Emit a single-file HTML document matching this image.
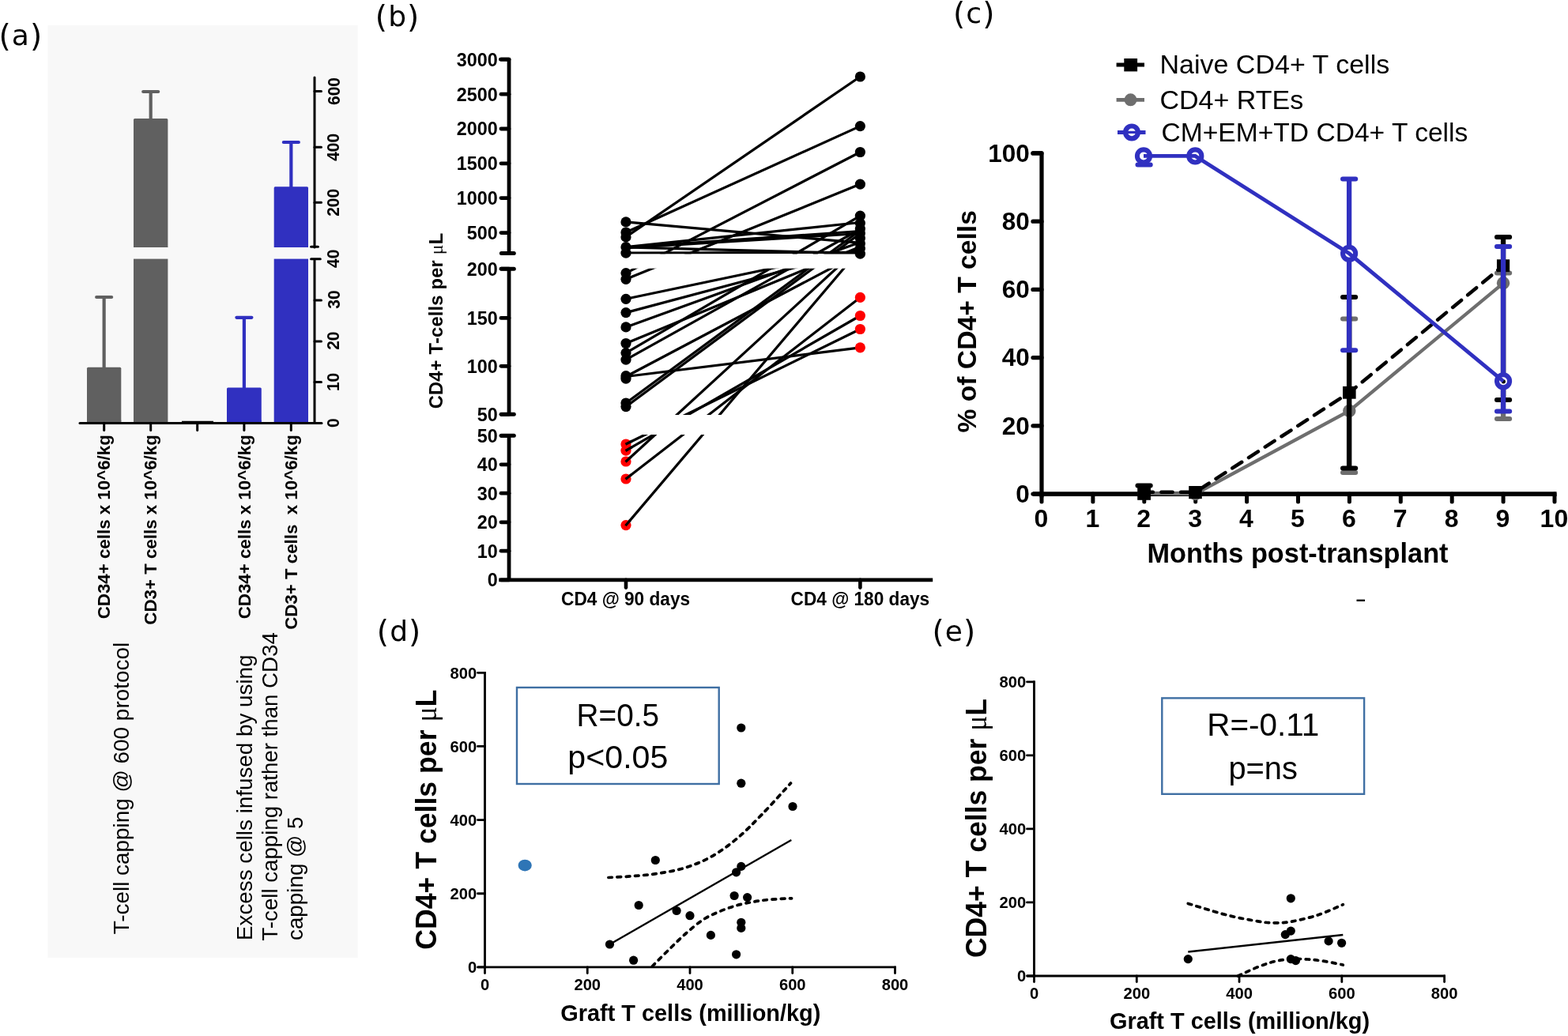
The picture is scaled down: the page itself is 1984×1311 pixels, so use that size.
<!DOCTYPE html>
<html lang="en">
<head>
<meta charset="utf-8">
<title>Figure</title>
<style>
html,body{margin:0;padding:0;background:#fff;}
body{width:1984px;height:1311px;overflow:hidden;}
svg{display:block;}
</style>
</head>
<body>
<svg width="1984" height="1311" viewBox="0 0 1984 1311">
<rect x="0" y="0" width="1984" height="1311" fill="#ffffff"/>
<rect x="60.50" y="32.00" width="392.00" height="1180.00" fill="#f8f8f8"/>
<line x1="131.65" y1="466.80" x2="131.65" y2="376.00" stroke="#606060" stroke-width="4.2" stroke-linecap="butt"/>
<line x1="122.15" y1="376.00" x2="141.15" y2="376.00" stroke="#606060" stroke-width="4.2" stroke-linecap="round"/>
<rect x="110.00" y="464.80" width="43.30" height="69.80" fill="#606060" rx="1.5"/>
<rect x="110.00" y="531.60" width="43.30" height="3.00" fill="#606060"/>
<line x1="190.70" y1="152.00" x2="190.70" y2="116.00" stroke="#606060" stroke-width="4.2" stroke-linecap="butt"/>
<line x1="181.20" y1="116.00" x2="200.20" y2="116.00" stroke="#606060" stroke-width="4.2" stroke-linecap="round"/>
<rect x="169.00" y="150.00" width="43.40" height="163.00" fill="#606060" rx="1.5"/>
<rect x="169.00" y="312.00" width="43.40" height="1.00" fill="#606060"/>
<rect x="169.00" y="327.60" width="43.40" height="207.00" fill="#606060"/>
<line x1="308.90" y1="492.40" x2="308.90" y2="401.80" stroke="#3030c0" stroke-width="4.2" stroke-linecap="butt"/>
<line x1="299.40" y1="401.80" x2="318.40" y2="401.80" stroke="#3030c0" stroke-width="4.2" stroke-linecap="round"/>
<rect x="287.00" y="490.40" width="43.80" height="44.20" fill="#3030c0" rx="1.5"/>
<rect x="287.00" y="531.60" width="43.80" height="3.00" fill="#3030c0"/>
<line x1="368.35" y1="238.30" x2="368.35" y2="180.00" stroke="#3030c0" stroke-width="4.2" stroke-linecap="butt"/>
<line x1="358.85" y1="180.00" x2="377.85" y2="180.00" stroke="#3030c0" stroke-width="4.2" stroke-linecap="round"/>
<rect x="346.70" y="236.30" width="43.30" height="76.70" fill="#3030c0" rx="1.5"/>
<rect x="346.70" y="312.00" width="43.30" height="1.00" fill="#3030c0"/>
<rect x="346.70" y="327.60" width="43.30" height="207.00" fill="#3030c0"/>
<line x1="230.00" y1="533.50" x2="270.00" y2="533.50" stroke="#000" stroke-width="1.5" stroke-linecap="butt"/>
<line x1="101.00" y1="535.60" x2="407.00" y2="535.60" stroke="#000" stroke-width="3" stroke-linecap="round"/>
<line x1="398.00" y1="98.00" x2="398.00" y2="313.00" stroke="#000" stroke-width="3" stroke-linecap="round"/>
<line x1="398.00" y1="328.00" x2="398.00" y2="535.30" stroke="#000" stroke-width="3" stroke-linecap="butt"/>
<line x1="398.00" y1="115.50" x2="406.50" y2="115.50" stroke="#000" stroke-width="3" stroke-linecap="round"/>
<line x1="398.00" y1="186.30" x2="406.50" y2="186.30" stroke="#000" stroke-width="3" stroke-linecap="round"/>
<line x1="398.00" y1="256.30" x2="406.50" y2="256.30" stroke="#000" stroke-width="3" stroke-linecap="round"/>
<line x1="398.00" y1="380.00" x2="406.50" y2="380.00" stroke="#000" stroke-width="3" stroke-linecap="round"/>
<line x1="398.00" y1="431.90" x2="406.50" y2="431.90" stroke="#000" stroke-width="3" stroke-linecap="round"/>
<line x1="398.00" y1="483.40" x2="406.50" y2="483.40" stroke="#000" stroke-width="3" stroke-linecap="round"/>
<line x1="393.60" y1="312.20" x2="402.40" y2="312.20" stroke="#000" stroke-width="3" stroke-linecap="round"/>
<line x1="393.60" y1="327.80" x2="405.30" y2="327.80" stroke="#000" stroke-width="3" stroke-linecap="round"/>
<line x1="131.70" y1="535.30" x2="131.70" y2="544.50" stroke="#000" stroke-width="3" stroke-linecap="round"/>
<line x1="190.70" y1="535.30" x2="190.70" y2="544.50" stroke="#000" stroke-width="3" stroke-linecap="round"/>
<line x1="249.70" y1="535.30" x2="249.70" y2="544.50" stroke="#000" stroke-width="3" stroke-linecap="round"/>
<line x1="308.90" y1="535.30" x2="308.90" y2="544.50" stroke="#000" stroke-width="3" stroke-linecap="round"/>
<line x1="368.30" y1="535.30" x2="368.30" y2="544.50" stroke="#000" stroke-width="3" stroke-linecap="round"/>
<text x="429.5" y="115.5" font-family='"Liberation Sans", Arial, Helvetica, sans-serif' font-size="21.7" font-weight="bold" text-anchor="middle" fill="#000" transform="rotate(-90 429.5 115.5)" textLength="35" lengthAdjust="spacingAndGlyphs">600</text>
<text x="429.5" y="186.3" font-family='"Liberation Sans", Arial, Helvetica, sans-serif' font-size="21.7" font-weight="bold" text-anchor="middle" fill="#000" transform="rotate(-90 429.5 186.3)" textLength="35" lengthAdjust="spacingAndGlyphs">400</text>
<text x="429.5" y="256.3" font-family='"Liberation Sans", Arial, Helvetica, sans-serif' font-size="21.7" font-weight="bold" text-anchor="middle" fill="#000" transform="rotate(-90 429.5 256.3)" textLength="35" lengthAdjust="spacingAndGlyphs">200</text>
<text x="429.5" y="327.3" font-family='"Liberation Sans", Arial, Helvetica, sans-serif' font-size="21.7" font-weight="bold" text-anchor="middle" fill="#000" transform="rotate(-90 429.5 327.3)" textLength="23.3" lengthAdjust="spacingAndGlyphs">40</text>
<text x="429.5" y="379" font-family='"Liberation Sans", Arial, Helvetica, sans-serif' font-size="21.7" font-weight="bold" text-anchor="middle" fill="#000" transform="rotate(-90 429.5 379)" textLength="23.3" lengthAdjust="spacingAndGlyphs">30</text>
<text x="429.5" y="431.2" font-family='"Liberation Sans", Arial, Helvetica, sans-serif' font-size="21.7" font-weight="bold" text-anchor="middle" fill="#000" transform="rotate(-90 429.5 431.2)" textLength="23.3" lengthAdjust="spacingAndGlyphs">20</text>
<text x="429.5" y="483.4" font-family='"Liberation Sans", Arial, Helvetica, sans-serif' font-size="21.7" font-weight="bold" text-anchor="middle" fill="#000" transform="rotate(-90 429.5 483.4)" textLength="23.3" lengthAdjust="spacingAndGlyphs">10</text>
<text x="429.5" y="535.3" font-family='"Liberation Sans", Arial, Helvetica, sans-serif' font-size="21.7" font-weight="bold" text-anchor="middle" fill="#000" transform="rotate(-90 429.5 535.3)" textLength="11.6" lengthAdjust="spacingAndGlyphs">0</text>
<text x="139" y="550.2" font-family='"Liberation Sans", Arial, Helvetica, sans-serif' font-size="22.3" font-weight="bold" text-anchor="end" fill="#000" transform="rotate(-90 139 550.2)" style="white-space:pre">CD34+ cells x 10^6/kg</text>
<text x="198" y="550.2" font-family='"Liberation Sans", Arial, Helvetica, sans-serif' font-size="22.3" font-weight="bold" text-anchor="end" fill="#000" transform="rotate(-90 198 550.2)" style="white-space:pre">CD3+ T cells x 10^6/kg</text>
<text x="316.6" y="550.2" font-family='"Liberation Sans", Arial, Helvetica, sans-serif' font-size="22.3" font-weight="bold" text-anchor="end" fill="#000" transform="rotate(-90 316.6 550.2)" style="white-space:pre">CD34+ cells x 10^6/kg</text>
<text x="375.6" y="550.2" font-family='"Liberation Sans", Arial, Helvetica, sans-serif' font-size="22.3" font-weight="bold" text-anchor="end" fill="#000" transform="rotate(-90 375.6 550.2)" style="white-space:pre">CD3+ T cells  x 10^6/kg</text>
<text x="163.2" y="1182.3" font-family='"Liberation Sans", Arial, Helvetica, sans-serif' font-size="27.9" font-weight="normal" text-anchor="start" fill="#000" transform="rotate(-90 163.2 1182.3)">T-cell capping @ 600 protocol</text>
<text x="319.4" y="1190" font-family='"Liberation Sans", Arial, Helvetica, sans-serif' font-size="27.8" font-weight="normal" text-anchor="start" fill="#000" transform="rotate(-90 319.4 1190)">Excess cells infused by using</text>
<text x="351" y="1190.5" font-family='"Liberation Sans", Arial, Helvetica, sans-serif' font-size="27.65" font-weight="normal" text-anchor="start" fill="#000" transform="rotate(-90 351 1190.5)">T-cell capping rather than CD34</text>
<text x="383.4" y="1190" font-family='"Liberation Sans", Arial, Helvetica, sans-serif' font-size="27.8" font-weight="normal" text-anchor="start" fill="#000" transform="rotate(-90 383.4 1190)">capping @ 5</text>
<line x1="792.00" y1="299.90" x2="1088.40" y2="97.00" stroke="#000" stroke-width="3.2" stroke-linecap="butt"/>
<line x1="792.00" y1="294.00" x2="1088.40" y2="159.60" stroke="#000" stroke-width="3.2" stroke-linecap="butt"/>
<line x1="792.00" y1="345.60" x2="1088.40" y2="192.50" stroke="#000" stroke-width="3.2" stroke-linecap="butt"/>
<line x1="792.00" y1="353.30" x2="1088.40" y2="233.10" stroke="#000" stroke-width="3.2" stroke-linecap="butt"/>
<line x1="792.00" y1="280.90" x2="1088.40" y2="307.30" stroke="#000" stroke-width="3.2" stroke-linecap="butt"/>
<line x1="792.00" y1="312.70" x2="1088.40" y2="281.50" stroke="#000" stroke-width="3.2" stroke-linecap="butt"/>
<line x1="792.00" y1="313.20" x2="1088.40" y2="292.50" stroke="#000" stroke-width="3.2" stroke-linecap="butt"/>
<line x1="792.00" y1="313.60" x2="1088.40" y2="295.50" stroke="#000" stroke-width="3.2" stroke-linecap="butt"/>
<line x1="792.00" y1="312.90" x2="1088.40" y2="320.70" stroke="#000" stroke-width="3.2" stroke-linecap="butt"/>
<line x1="792.00" y1="320.20" x2="1088.40" y2="319.30" stroke="#000" stroke-width="3.2" stroke-linecap="butt"/>
<line x1="792.00" y1="378.30" x2="1088.40" y2="316.00" stroke="#000" stroke-width="3.2" stroke-linecap="butt"/>
<line x1="792.00" y1="395.60" x2="1088.40" y2="316.50" stroke="#000" stroke-width="3.2" stroke-linecap="butt"/>
<line x1="792.00" y1="413.90" x2="1088.40" y2="306.50" stroke="#000" stroke-width="3.2" stroke-linecap="butt"/>
<line x1="792.00" y1="434.50" x2="1088.40" y2="312.20" stroke="#000" stroke-width="3.2" stroke-linecap="butt"/>
<line x1="792.00" y1="446.60" x2="1088.40" y2="273.20" stroke="#000" stroke-width="3.2" stroke-linecap="butt"/>
<line x1="792.00" y1="455.20" x2="1088.40" y2="290.00" stroke="#000" stroke-width="3.2" stroke-linecap="butt"/>
<line x1="792.00" y1="476.50" x2="1088.40" y2="320.00" stroke="#000" stroke-width="3.2" stroke-linecap="butt"/>
<line x1="792.00" y1="476.50" x2="1088.40" y2="439.80" stroke="#000" stroke-width="3.2" stroke-linecap="butt"/>
<line x1="792.00" y1="510.00" x2="1088.40" y2="291.50" stroke="#000" stroke-width="3.2" stroke-linecap="butt"/>
<line x1="792.00" y1="514.60" x2="1088.40" y2="295.50" stroke="#000" stroke-width="3.2" stroke-linecap="butt"/>
<line x1="792.00" y1="562.00" x2="1088.40" y2="416.50" stroke="#000" stroke-width="3.2" stroke-linecap="butt"/>
<line x1="792.00" y1="570.20" x2="1088.40" y2="399.50" stroke="#000" stroke-width="3.2" stroke-linecap="butt"/>
<line x1="792.00" y1="584.00" x2="1088.40" y2="312.00" stroke="#000" stroke-width="3.2" stroke-linecap="butt"/>
<line x1="792.00" y1="606.00" x2="1088.40" y2="376.40" stroke="#000" stroke-width="3.2" stroke-linecap="butt"/>
<line x1="792.00" y1="664.60" x2="1088.40" y2="315.20" stroke="#000" stroke-width="3.2" stroke-linecap="butt"/>
<rect x="780.00" y="321.50" width="330.00" height="18.20" fill="#fff"/>
<rect x="780.00" y="525.00" width="330.00" height="25.00" fill="#fff"/>
<circle cx="792.00" cy="280.90" r="6.6" fill="#000"/>
<circle cx="792.00" cy="294.00" r="6.6" fill="#000"/>
<circle cx="792.00" cy="299.90" r="6.6" fill="#000"/>
<circle cx="792.00" cy="312.70" r="6.6" fill="#000"/>
<circle cx="792.00" cy="320.20" r="6.6" fill="#000"/>
<circle cx="792.00" cy="345.60" r="6.6" fill="#000"/>
<circle cx="792.00" cy="353.30" r="6.6" fill="#000"/>
<circle cx="792.00" cy="378.30" r="6.6" fill="#000"/>
<circle cx="792.00" cy="395.60" r="6.6" fill="#000"/>
<circle cx="792.00" cy="413.90" r="6.6" fill="#000"/>
<circle cx="792.00" cy="434.50" r="6.6" fill="#000"/>
<circle cx="792.00" cy="446.60" r="6.6" fill="#000"/>
<circle cx="792.00" cy="455.20" r="6.6" fill="#000"/>
<circle cx="792.00" cy="475.70" r="6.6" fill="#000"/>
<circle cx="792.00" cy="479.20" r="6.6" fill="#000"/>
<circle cx="792.00" cy="510.00" r="6.6" fill="#000"/>
<circle cx="792.00" cy="514.60" r="6.6" fill="#000"/>
<circle cx="792.00" cy="562.00" r="6.6" fill="#f00"/>
<circle cx="792.00" cy="570.20" r="6.6" fill="#f00"/>
<circle cx="792.00" cy="584.00" r="6.6" fill="#f00"/>
<circle cx="792.00" cy="606.00" r="6.6" fill="#f00"/>
<circle cx="792.00" cy="664.60" r="6.6" fill="#f00"/>
<circle cx="1088.40" cy="97.00" r="6.6" fill="#000"/>
<circle cx="1088.40" cy="159.60" r="6.6" fill="#000"/>
<circle cx="1088.40" cy="192.50" r="6.6" fill="#000"/>
<circle cx="1088.40" cy="233.10" r="6.6" fill="#000"/>
<circle cx="1088.40" cy="273.20" r="6.6" fill="#000"/>
<circle cx="1088.40" cy="282.30" r="6.6" fill="#000"/>
<circle cx="1088.40" cy="289.50" r="6.6" fill="#000"/>
<circle cx="1088.40" cy="295.00" r="6.6" fill="#000"/>
<circle cx="1088.40" cy="301.50" r="6.6" fill="#000"/>
<circle cx="1088.40" cy="308.00" r="6.6" fill="#000"/>
<circle cx="1088.40" cy="314.50" r="6.6" fill="#000"/>
<circle cx="1088.40" cy="321.20" r="6.6" fill="#000"/>
<circle cx="1088.40" cy="376.40" r="6.6" fill="#f00"/>
<circle cx="1088.40" cy="399.50" r="6.6" fill="#f00"/>
<circle cx="1088.40" cy="416.50" r="6.6" fill="#f00"/>
<circle cx="1088.40" cy="439.80" r="6.6" fill="#f00"/>
<line x1="791.50" y1="562.25" x2="800.08" y2="558.03" stroke="#000" stroke-width="3.2" stroke-linecap="butt"/>
<line x1="791.50" y1="570.49" x2="799.80" y2="565.71" stroke="#000" stroke-width="3.2" stroke-linecap="butt"/>
<line x1="791.50" y1="584.46" x2="798.63" y2="577.91" stroke="#000" stroke-width="3.2" stroke-linecap="butt"/>
<line x1="791.50" y1="606.39" x2="799.12" y2="600.49" stroke="#000" stroke-width="3.2" stroke-linecap="butt"/>
<line x1="791.50" y1="665.19" x2="797.82" y2="657.74" stroke="#000" stroke-width="3.2" stroke-linecap="butt"/>
<path d="M633.4,75.2 H644.05 V320.6" fill="none" stroke="#000" stroke-width="4.8" stroke-linejoin="round" stroke-linecap="round"/>
<line x1="644.05" y1="340.20" x2="644.05" y2="524.30" stroke="#000" stroke-width="4.8" stroke-linecap="butt"/>
<line x1="644.05" y1="551.30" x2="644.05" y2="733.90" stroke="#000" stroke-width="4.8" stroke-linecap="butt"/>
<line x1="631.30" y1="733.90" x2="1180.20" y2="733.90" stroke="#000" stroke-width="4.7" stroke-linecap="butt"/>
<line x1="634.00" y1="75.20" x2="644.05" y2="75.20" stroke="#000" stroke-width="4.8" stroke-linecap="round"/>
<text x="629.8" y="83.5" font-family='"Liberation Sans", Arial, Helvetica, sans-serif' font-size="24" font-weight="bold" text-anchor="end" fill="#000" textLength="52.0" lengthAdjust="spacingAndGlyphs">3000</text>
<line x1="634.00" y1="119.20" x2="644.05" y2="119.20" stroke="#000" stroke-width="4.8" stroke-linecap="round"/>
<text x="629.8" y="127.5" font-family='"Liberation Sans", Arial, Helvetica, sans-serif' font-size="24" font-weight="bold" text-anchor="end" fill="#000" textLength="52.0" lengthAdjust="spacingAndGlyphs">2500</text>
<line x1="634.00" y1="163.00" x2="644.05" y2="163.00" stroke="#000" stroke-width="4.8" stroke-linecap="round"/>
<text x="629.8" y="171.3" font-family='"Liberation Sans", Arial, Helvetica, sans-serif' font-size="24" font-weight="bold" text-anchor="end" fill="#000" textLength="52.0" lengthAdjust="spacingAndGlyphs">2000</text>
<line x1="634.00" y1="206.80" x2="644.05" y2="206.80" stroke="#000" stroke-width="4.8" stroke-linecap="round"/>
<text x="629.8" y="215.10000000000002" font-family='"Liberation Sans", Arial, Helvetica, sans-serif' font-size="24" font-weight="bold" text-anchor="end" fill="#000" textLength="52.0" lengthAdjust="spacingAndGlyphs">1500</text>
<line x1="634.00" y1="250.60" x2="644.05" y2="250.60" stroke="#000" stroke-width="4.8" stroke-linecap="round"/>
<text x="629.8" y="258.9" font-family='"Liberation Sans", Arial, Helvetica, sans-serif' font-size="24" font-weight="bold" text-anchor="end" fill="#000" textLength="52.0" lengthAdjust="spacingAndGlyphs">1000</text>
<line x1="634.00" y1="294.60" x2="644.05" y2="294.60" stroke="#000" stroke-width="4.8" stroke-linecap="round"/>
<text x="629.8" y="302.90000000000003" font-family='"Liberation Sans", Arial, Helvetica, sans-serif' font-size="24" font-weight="bold" text-anchor="end" fill="#000" textLength="39.0" lengthAdjust="spacingAndGlyphs">500</text>
<line x1="634.00" y1="340.20" x2="644.05" y2="340.20" stroke="#000" stroke-width="4.8" stroke-linecap="round"/>
<text x="629.8" y="348.5" font-family='"Liberation Sans", Arial, Helvetica, sans-serif' font-size="24" font-weight="bold" text-anchor="end" fill="#000" textLength="39.0" lengthAdjust="spacingAndGlyphs">200</text>
<line x1="634.00" y1="402.40" x2="644.05" y2="402.40" stroke="#000" stroke-width="4.8" stroke-linecap="round"/>
<text x="629.8" y="410.7" font-family='"Liberation Sans", Arial, Helvetica, sans-serif' font-size="24" font-weight="bold" text-anchor="end" fill="#000" textLength="39.0" lengthAdjust="spacingAndGlyphs">150</text>
<line x1="634.00" y1="463.30" x2="644.05" y2="463.30" stroke="#000" stroke-width="4.8" stroke-linecap="round"/>
<text x="629.8" y="471.6" font-family='"Liberation Sans", Arial, Helvetica, sans-serif' font-size="24" font-weight="bold" text-anchor="end" fill="#000" textLength="39.0" lengthAdjust="spacingAndGlyphs">100</text>
<line x1="634.00" y1="524.30" x2="644.05" y2="524.30" stroke="#000" stroke-width="4.8" stroke-linecap="round"/>
<text x="629.8" y="532.5999999999999" font-family='"Liberation Sans", Arial, Helvetica, sans-serif' font-size="24" font-weight="bold" text-anchor="end" fill="#000" textLength="26.0" lengthAdjust="spacingAndGlyphs">50</text>
<line x1="634.00" y1="551.30" x2="644.05" y2="551.30" stroke="#000" stroke-width="4.8" stroke-linecap="round"/>
<text x="629.8" y="559.5999999999999" font-family='"Liberation Sans", Arial, Helvetica, sans-serif' font-size="24" font-weight="bold" text-anchor="end" fill="#000" textLength="26.0" lengthAdjust="spacingAndGlyphs">50</text>
<line x1="634.00" y1="587.80" x2="644.05" y2="587.80" stroke="#000" stroke-width="4.8" stroke-linecap="round"/>
<text x="629.8" y="596.0999999999999" font-family='"Liberation Sans", Arial, Helvetica, sans-serif' font-size="24" font-weight="bold" text-anchor="end" fill="#000" textLength="26.0" lengthAdjust="spacingAndGlyphs">40</text>
<line x1="634.00" y1="624.20" x2="644.05" y2="624.20" stroke="#000" stroke-width="4.8" stroke-linecap="round"/>
<text x="629.8" y="632.5" font-family='"Liberation Sans", Arial, Helvetica, sans-serif' font-size="24" font-weight="bold" text-anchor="end" fill="#000" textLength="26.0" lengthAdjust="spacingAndGlyphs">30</text>
<line x1="634.00" y1="660.80" x2="644.05" y2="660.80" stroke="#000" stroke-width="4.8" stroke-linecap="round"/>
<text x="629.8" y="669.0999999999999" font-family='"Liberation Sans", Arial, Helvetica, sans-serif' font-size="24" font-weight="bold" text-anchor="end" fill="#000" textLength="26.0" lengthAdjust="spacingAndGlyphs">20</text>
<line x1="634.00" y1="697.20" x2="644.05" y2="697.20" stroke="#000" stroke-width="4.8" stroke-linecap="round"/>
<text x="629.8" y="705.5" font-family='"Liberation Sans", Arial, Helvetica, sans-serif' font-size="24" font-weight="bold" text-anchor="end" fill="#000" textLength="26.0" lengthAdjust="spacingAndGlyphs">10</text>
<line x1="634.00" y1="733.90" x2="644.05" y2="733.90" stroke="#000" stroke-width="4.8" stroke-linecap="round"/>
<text x="629.8" y="742.1999999999999" font-family='"Liberation Sans", Arial, Helvetica, sans-serif' font-size="24" font-weight="bold" text-anchor="end" fill="#000" textLength="13.0" lengthAdjust="spacingAndGlyphs">0</text>
<line x1="634.40" y1="320.60" x2="650.30" y2="320.60" stroke="#000" stroke-width="5" stroke-linecap="round"/>
<line x1="634.40" y1="340.20" x2="650.30" y2="340.20" stroke="#000" stroke-width="5" stroke-linecap="round"/>
<line x1="634.40" y1="524.30" x2="650.30" y2="524.30" stroke="#000" stroke-width="5" stroke-linecap="round"/>
<line x1="634.40" y1="551.30" x2="650.30" y2="551.30" stroke="#000" stroke-width="5" stroke-linecap="round"/>
<line x1="792.00" y1="733.90" x2="792.00" y2="743.60" stroke="#000" stroke-width="4.6" stroke-linecap="round"/>
<line x1="1088.40" y1="733.90" x2="1088.40" y2="743.60" stroke="#000" stroke-width="4.6" stroke-linecap="round"/>
<text x="791.6" y="765.6" font-family='"Liberation Sans", Arial, Helvetica, sans-serif' font-size="23.7" font-weight="bold" text-anchor="middle" fill="#000" textLength="163" lengthAdjust="spacingAndGlyphs">CD4 @ 90 days</text>
<text x="1088.4" y="765.6" font-family='"Liberation Sans", Arial, Helvetica, sans-serif' font-size="23.7" font-weight="bold" text-anchor="middle" fill="#000" textLength="175.6" lengthAdjust="spacingAndGlyphs">CD4 @ 180 days</text>
<text x="560.1" y="517.3" transform="rotate(-90 560.1 517.3)" textLength="222.5" lengthAdjust="spacing" font-family='"Liberation Sans", Arial, Helvetica, sans-serif' font-size="23.7" font-weight="bold" fill="#000">CD4+ T-cells per <tspan font-family='"Liberation Serif", serif' font-weight="normal">μ</tspan>L</text>
<line x1="1412.60" y1="82.00" x2="1448.00" y2="82.00" stroke="#000" stroke-width="5.2" stroke-linecap="butt"/>
<rect x="1422.30" y="74.00" width="16.80" height="16.40" fill="#000"/>
<line x1="1412.60" y1="126.30" x2="1448.00" y2="126.30" stroke="#6e6e6e" stroke-width="4.8" stroke-linecap="butt"/>
<circle cx="1430.50" cy="126.30" r="8" fill="#6e6e6e"/>
<line x1="1414.00" y1="167.40" x2="1449.50" y2="167.40" stroke="#3030c0" stroke-width="5" stroke-linecap="butt"/>
<circle cx="1432.00" cy="167.40" r="7.90" fill="#fff" stroke="#3030c0" stroke-width="6.20"/>
<line x1="1426.00" y1="167.40" x2="1438.00" y2="167.40" stroke="#3030c0" stroke-width="3.2" stroke-linecap="butt"/>
<text x="1467.5" y="93.2" font-family='"Liberation Sans", Arial, Helvetica, sans-serif' font-size="34" font-weight="normal" text-anchor="start" fill="#000">Naive CD4+ T cells</text>
<text x="1467.5" y="137.8" font-family='"Liberation Sans", Arial, Helvetica, sans-serif' font-size="34" font-weight="normal" text-anchor="start" fill="#000">CD4+ RTEs</text>
<text x="1469.5" y="178.5" font-family='"Liberation Sans", Arial, Helvetica, sans-serif' font-size="33.6" font-weight="normal" text-anchor="start" fill="#000">CM+EM+TD CD4+ T cells</text>
<path d="M1307.0,193.9 H1318.0 V627.9" fill="none" stroke="#000" stroke-width="5.2" stroke-linejoin="round" stroke-linecap="round"/>
<line x1="1307.00" y1="625.10" x2="1969.60" y2="625.10" stroke="#000" stroke-width="5.6" stroke-linecap="butt"/>
<line x1="1307.00" y1="625.10" x2="1318.00" y2="625.10" stroke="#000" stroke-width="5.2" stroke-linecap="round"/>
<text x="1302.8" y="635.8000000000001" font-family='"Liberation Sans", Arial, Helvetica, sans-serif' font-size="31.5" font-weight="bold" text-anchor="end" fill="#000">0</text>
<line x1="1307.00" y1="538.86" x2="1318.00" y2="538.86" stroke="#000" stroke-width="5.2" stroke-linecap="round"/>
<text x="1302.8" y="549.5600000000001" font-family='"Liberation Sans", Arial, Helvetica, sans-serif' font-size="31.5" font-weight="bold" text-anchor="end" fill="#000">20</text>
<line x1="1307.00" y1="452.62" x2="1318.00" y2="452.62" stroke="#000" stroke-width="5.2" stroke-linecap="round"/>
<text x="1302.8" y="463.32" font-family='"Liberation Sans", Arial, Helvetica, sans-serif' font-size="31.5" font-weight="bold" text-anchor="end" fill="#000">40</text>
<line x1="1307.00" y1="366.38" x2="1318.00" y2="366.38" stroke="#000" stroke-width="5.2" stroke-linecap="round"/>
<text x="1302.8" y="377.08" font-family='"Liberation Sans", Arial, Helvetica, sans-serif' font-size="31.5" font-weight="bold" text-anchor="end" fill="#000">60</text>
<line x1="1307.00" y1="280.14" x2="1318.00" y2="280.14" stroke="#000" stroke-width="5.2" stroke-linecap="round"/>
<text x="1302.8" y="290.84" font-family='"Liberation Sans", Arial, Helvetica, sans-serif' font-size="31.5" font-weight="bold" text-anchor="end" fill="#000">80</text>
<line x1="1307.00" y1="193.90" x2="1318.00" y2="193.90" stroke="#000" stroke-width="5.2" stroke-linecap="round"/>
<text x="1302.8" y="204.59999999999997" font-family='"Liberation Sans", Arial, Helvetica, sans-serif' font-size="31.5" font-weight="bold" text-anchor="end" fill="#000">100</text>
<line x1="1318.00" y1="625.10" x2="1318.00" y2="635.10" stroke="#000" stroke-width="5" stroke-linecap="round"/>
<text x="1317.4" y="667.3" font-family='"Liberation Sans", Arial, Helvetica, sans-serif' font-size="32" font-weight="bold" text-anchor="middle" fill="#000">0</text>
<line x1="1382.90" y1="625.10" x2="1382.90" y2="635.10" stroke="#000" stroke-width="5" stroke-linecap="round"/>
<text x="1382.3000000000002" y="667.3" font-family='"Liberation Sans", Arial, Helvetica, sans-serif' font-size="32" font-weight="bold" text-anchor="middle" fill="#000">1</text>
<line x1="1447.80" y1="625.10" x2="1447.80" y2="635.10" stroke="#000" stroke-width="5" stroke-linecap="round"/>
<text x="1447.2" y="667.3" font-family='"Liberation Sans", Arial, Helvetica, sans-serif' font-size="32" font-weight="bold" text-anchor="middle" fill="#000">2</text>
<line x1="1512.70" y1="625.10" x2="1512.70" y2="635.10" stroke="#000" stroke-width="5" stroke-linecap="round"/>
<text x="1512.1000000000001" y="667.3" font-family='"Liberation Sans", Arial, Helvetica, sans-serif' font-size="32" font-weight="bold" text-anchor="middle" fill="#000">3</text>
<line x1="1577.60" y1="625.10" x2="1577.60" y2="635.10" stroke="#000" stroke-width="5" stroke-linecap="round"/>
<text x="1577.0" y="667.3" font-family='"Liberation Sans", Arial, Helvetica, sans-serif' font-size="32" font-weight="bold" text-anchor="middle" fill="#000">4</text>
<line x1="1642.50" y1="625.10" x2="1642.50" y2="635.10" stroke="#000" stroke-width="5" stroke-linecap="round"/>
<text x="1641.9" y="667.3" font-family='"Liberation Sans", Arial, Helvetica, sans-serif' font-size="32" font-weight="bold" text-anchor="middle" fill="#000">5</text>
<line x1="1707.40" y1="625.10" x2="1707.40" y2="635.10" stroke="#000" stroke-width="5" stroke-linecap="round"/>
<text x="1706.8000000000002" y="667.3" font-family='"Liberation Sans", Arial, Helvetica, sans-serif' font-size="32" font-weight="bold" text-anchor="middle" fill="#000">6</text>
<line x1="1772.30" y1="625.10" x2="1772.30" y2="635.10" stroke="#000" stroke-width="5" stroke-linecap="round"/>
<text x="1771.7000000000003" y="667.3" font-family='"Liberation Sans", Arial, Helvetica, sans-serif' font-size="32" font-weight="bold" text-anchor="middle" fill="#000">7</text>
<line x1="1837.20" y1="625.10" x2="1837.20" y2="635.10" stroke="#000" stroke-width="5" stroke-linecap="round"/>
<text x="1836.6000000000001" y="667.3" font-family='"Liberation Sans", Arial, Helvetica, sans-serif' font-size="32" font-weight="bold" text-anchor="middle" fill="#000">8</text>
<line x1="1902.10" y1="625.10" x2="1902.10" y2="635.10" stroke="#000" stroke-width="5" stroke-linecap="round"/>
<text x="1901.5" y="667.3" font-family='"Liberation Sans", Arial, Helvetica, sans-serif' font-size="32" font-weight="bold" text-anchor="middle" fill="#000">9</text>
<line x1="1967.00" y1="625.10" x2="1967.00" y2="635.10" stroke="#000" stroke-width="5" stroke-linecap="round"/>
<text x="1966.4" y="667.3" font-family='"Liberation Sans", Arial, Helvetica, sans-serif' font-size="32" font-weight="bold" text-anchor="middle" fill="#000">10</text>
<line x1="1707.10" y1="403.60" x2="1707.10" y2="598.10" stroke="#6e6e6e" stroke-width="6.3" stroke-linecap="butt"/>
<line x1="1699.00" y1="403.60" x2="1715.20" y2="403.60" stroke="#6e6e6e" stroke-width="6" stroke-linecap="round"/>
<line x1="1699.00" y1="598.10" x2="1715.20" y2="598.10" stroke="#6e6e6e" stroke-width="6" stroke-linecap="round"/>
<line x1="1902.06" y1="345.40" x2="1902.06" y2="530.00" stroke="#6e6e6e" stroke-width="6.3" stroke-linecap="butt"/>
<line x1="1893.96" y1="345.40" x2="1910.16" y2="345.40" stroke="#6e6e6e" stroke-width="6" stroke-linecap="round"/>
<line x1="1893.96" y1="530.00" x2="1910.16" y2="530.00" stroke="#6e6e6e" stroke-width="6" stroke-linecap="round"/>
<polyline fill="none" stroke="#6e6e6e" stroke-width="4.3" points="1447.6,624.3 1512.5,625.0 1707.3,520.0 1902.1,358.3"/>
<circle cx="1447.60" cy="624.30" r="8.2" fill="#6e6e6e"/>
<circle cx="1512.50" cy="625.00" r="8.2" fill="#6e6e6e"/>
<circle cx="1707.30" cy="520.00" r="8.2" fill="#6e6e6e"/>
<circle cx="1902.06" cy="358.30" r="8.2" fill="#6e6e6e"/>
<line x1="1707.10" y1="376.00" x2="1707.10" y2="592.50" stroke="#000" stroke-width="6.3" stroke-linecap="butt"/>
<line x1="1699.00" y1="376.00" x2="1715.20" y2="376.00" stroke="#000" stroke-width="6" stroke-linecap="round"/>
<line x1="1699.00" y1="592.50" x2="1715.20" y2="592.50" stroke="#000" stroke-width="6" stroke-linecap="round"/>
<line x1="1902.06" y1="300.00" x2="1902.06" y2="506.10" stroke="#000" stroke-width="6.3" stroke-linecap="butt"/>
<line x1="1893.96" y1="300.00" x2="1910.16" y2="300.00" stroke="#000" stroke-width="6" stroke-linecap="round"/>
<line x1="1893.96" y1="506.10" x2="1910.16" y2="506.10" stroke="#000" stroke-width="6" stroke-linecap="round"/>
<line x1="1447.60" y1="614.60" x2="1447.60" y2="624.00" stroke="#000" stroke-width="6.3" stroke-linecap="butt"/>
<line x1="1439.50" y1="614.60" x2="1455.70" y2="614.60" stroke="#000" stroke-width="6" stroke-linecap="round"/>
<polyline fill="none" stroke="#000" stroke-width="4.5" stroke-linecap="round" stroke-dasharray="14.2 10.5" stroke-dashoffset="2.9" points="1447.6,622.7 1512.5,622.7 1707.3,496.8 1902.1,336.2"/>
<rect x="1439.20" y="615.30" width="16.80" height="17.50" fill="#000"/>
<rect x="1504.20" y="615.00" width="16.60" height="16.20" fill="#000"/>
<rect x="1699.00" y="488.90" width="16.60" height="15.80" fill="#000"/>
<rect x="1893.96" y="328.30" width="16.20" height="15.80" fill="#000"/>
<line x1="1707.10" y1="226.40" x2="1707.10" y2="443.20" stroke="#3030c0" stroke-width="6.3" stroke-linecap="butt"/>
<line x1="1699.00" y1="226.40" x2="1715.20" y2="226.40" stroke="#3030c0" stroke-width="6" stroke-linecap="round"/>
<line x1="1699.00" y1="443.20" x2="1715.20" y2="443.20" stroke="#3030c0" stroke-width="6" stroke-linecap="round"/>
<line x1="1902.06" y1="312.00" x2="1902.06" y2="520.40" stroke="#3030c0" stroke-width="6.3" stroke-linecap="butt"/>
<line x1="1893.96" y1="312.00" x2="1910.16" y2="312.00" stroke="#3030c0" stroke-width="6" stroke-linecap="round"/>
<line x1="1893.96" y1="520.40" x2="1910.16" y2="520.40" stroke="#3030c0" stroke-width="6" stroke-linecap="round"/>
<line x1="1447.60" y1="197.40" x2="1447.60" y2="208.40" stroke="#3030c0" stroke-width="6.3" stroke-linecap="butt"/>
<line x1="1439.50" y1="208.40" x2="1455.70" y2="208.40" stroke="#3030c0" stroke-width="6" stroke-linecap="round"/>
<circle cx="1447.00" cy="197.40" r="8.05" fill="#fff" stroke="#3030c0" stroke-width="6.10"/>
<circle cx="1512.30" cy="197.40" r="8.05" fill="#fff" stroke="#3030c0" stroke-width="6.10"/>
<circle cx="1707.10" cy="320.80" r="8.05" fill="#fff" stroke="#3030c0" stroke-width="6.10"/>
<circle cx="1902.06" cy="482.30" r="8.05" fill="#fff" stroke="#3030c0" stroke-width="6.10"/>
<circle cx="1902.36" cy="482.80" r="2.6" fill="#000"/>
<polyline fill="none" stroke="#3030c0" stroke-width="4.8" points="1447.0,197.4 1512.3,197.4 1707.1,320.8 1902.1,482.3"/>
<text x="1642" y="711.5" font-family='"Liberation Sans", Arial, Helvetica, sans-serif' font-size="34.3" font-weight="bold" text-anchor="middle" fill="#000">Months post-transplant</text>
<text x="1234.7" y="406.8" font-family='"Liberation Sans", Arial, Helvetica, sans-serif' font-size="34" font-weight="bold" text-anchor="middle" fill="#000" transform="rotate(-90 1234.7 406.8)" textLength="281.5" lengthAdjust="spacingAndGlyphs">% of CD4+ T cells</text>
<line x1="1716.50" y1="759.80" x2="1727.00" y2="759.80" stroke="#000" stroke-width="2.4" stroke-linecap="butt"/>
<path d="M771.5,1195.0 L1001.3,1063.0" fill="none" stroke="#000" stroke-width="2.4" stroke-linejoin="round"/>
<path d="M769.9,1110.5 C775.6,1110.2 793.1,1109.4 804.1,1108.4 C815.1,1107.5 825.4,1106.6 836.1,1104.8 C846.8,1103.0 857.4,1101.2 868.1,1097.7 C878.8,1094.2 889.5,1090.0 900.2,1083.9 C910.9,1077.9 921.5,1070.3 932.2,1061.4 C942.9,1052.5 952.8,1042.2 964.2,1030.5 C975.6,1018.8 994.5,997.6 1000.5,991.0" fill="none" stroke="#000" stroke-width="3.7" stroke-dasharray="4.6 6.6" stroke-linecap="round"/>
<path d="M825.4,1222.7 C829.0,1219.1 839.7,1208.2 846.8,1201.3 C853.9,1194.3 861.0,1187.2 868.1,1181.0 C875.2,1174.8 882.4,1168.5 889.5,1163.9 C896.6,1159.3 903.7,1156.3 910.8,1153.3 C917.9,1150.3 925.1,1147.8 932.2,1145.8 C939.3,1143.8 946.4,1142.3 953.5,1141.1 C960.6,1139.8 966.9,1139.0 974.9,1138.3 C982.9,1137.6 997.1,1137.0 1001.6,1136.8" fill="none" stroke="#000" stroke-width="3.7" stroke-dasharray="4.6 6.6" stroke-linecap="round"/>
<circle cx="937.80" cy="921.00" r="5.6" fill="#000"/>
<circle cx="937.80" cy="991.20" r="5.6" fill="#000"/>
<circle cx="1003.00" cy="1020.50" r="5.6" fill="#000"/>
<circle cx="829.30" cy="1088.50" r="5.6" fill="#000"/>
<circle cx="937.80" cy="1096.40" r="5.6" fill="#000"/>
<circle cx="931.60" cy="1103.80" r="5.6" fill="#000"/>
<circle cx="929.10" cy="1133.50" r="5.6" fill="#000"/>
<circle cx="945.60" cy="1135.60" r="5.6" fill="#000"/>
<circle cx="808.20" cy="1145.50" r="5.6" fill="#000"/>
<circle cx="856.10" cy="1152.50" r="5.6" fill="#000"/>
<circle cx="873.00" cy="1158.70" r="5.6" fill="#000"/>
<circle cx="937.80" cy="1167.30" r="5.6" fill="#000"/>
<circle cx="937.80" cy="1174.40" r="5.6" fill="#000"/>
<circle cx="899.40" cy="1183.40" r="5.6" fill="#000"/>
<circle cx="771.50" cy="1195.00" r="5.6" fill="#000"/>
<circle cx="931.60" cy="1207.80" r="5.6" fill="#000"/>
<circle cx="801.60" cy="1215.20" r="5.6" fill="#000"/>
<ellipse cx="664.2" cy="1095.1" rx="8.6" ry="7.4" fill="#2e75b6"/>
<line x1="613.50" y1="850.00" x2="613.50" y2="1225.20" stroke="#000" stroke-width="2.9" stroke-linecap="butt"/>
<line x1="604.50" y1="1223.90" x2="1133.80" y2="1223.90" stroke="#000" stroke-width="2.9" stroke-linecap="butt"/>
<line x1="604.50" y1="851.30" x2="613.50" y2="851.30" stroke="#000" stroke-width="2.8" stroke-linecap="round"/>
<text x="603.3" y="858.5" font-family='"Liberation Sans", Arial, Helvetica, sans-serif' font-size="20.2" font-weight="bold" text-anchor="end" fill="#000">800</text>
<line x1="604.50" y1="944.45" x2="613.50" y2="944.45" stroke="#000" stroke-width="2.8" stroke-linecap="round"/>
<text x="603.3" y="951.6500000000001" font-family='"Liberation Sans", Arial, Helvetica, sans-serif' font-size="20.2" font-weight="bold" text-anchor="end" fill="#000">600</text>
<line x1="604.50" y1="1037.60" x2="613.50" y2="1037.60" stroke="#000" stroke-width="2.8" stroke-linecap="round"/>
<text x="603.3" y="1044.8" font-family='"Liberation Sans", Arial, Helvetica, sans-serif' font-size="20.2" font-weight="bold" text-anchor="end" fill="#000">400</text>
<line x1="604.50" y1="1130.75" x2="613.50" y2="1130.75" stroke="#000" stroke-width="2.8" stroke-linecap="round"/>
<text x="603.3" y="1137.95" font-family='"Liberation Sans", Arial, Helvetica, sans-serif' font-size="20.2" font-weight="bold" text-anchor="end" fill="#000">200</text>
<line x1="604.50" y1="1223.90" x2="613.50" y2="1223.90" stroke="#000" stroke-width="2.8" stroke-linecap="round"/>
<text x="603.3" y="1231.1000000000001" font-family='"Liberation Sans", Arial, Helvetica, sans-serif' font-size="20.2" font-weight="bold" text-anchor="end" fill="#000">0</text>
<line x1="613.50" y1="1223.90" x2="613.50" y2="1231.50" stroke="#000" stroke-width="2.8" stroke-linecap="round"/>
<text x="613.5" y="1252.5" font-family='"Liberation Sans", Arial, Helvetica, sans-serif' font-size="20.2" font-weight="bold" text-anchor="middle" fill="#000">0</text>
<line x1="743.25" y1="1223.90" x2="743.25" y2="1231.50" stroke="#000" stroke-width="2.8" stroke-linecap="round"/>
<text x="743.25" y="1252.5" font-family='"Liberation Sans", Arial, Helvetica, sans-serif' font-size="20.2" font-weight="bold" text-anchor="middle" fill="#000">200</text>
<line x1="873.00" y1="1223.90" x2="873.00" y2="1231.50" stroke="#000" stroke-width="2.8" stroke-linecap="round"/>
<text x="873.0" y="1252.5" font-family='"Liberation Sans", Arial, Helvetica, sans-serif' font-size="20.2" font-weight="bold" text-anchor="middle" fill="#000">400</text>
<line x1="1002.75" y1="1223.90" x2="1002.75" y2="1231.50" stroke="#000" stroke-width="2.8" stroke-linecap="round"/>
<text x="1002.75" y="1252.5" font-family='"Liberation Sans", Arial, Helvetica, sans-serif' font-size="20.2" font-weight="bold" text-anchor="middle" fill="#000">600</text>
<line x1="1132.50" y1="1223.90" x2="1132.50" y2="1231.50" stroke="#000" stroke-width="2.8" stroke-linecap="round"/>
<text x="1132.5" y="1252.5" font-family='"Liberation Sans", Arial, Helvetica, sans-serif' font-size="20.2" font-weight="bold" text-anchor="middle" fill="#000">800</text>
<text x="873.8" y="1291.5" font-family='"Liberation Sans", Arial, Helvetica, sans-serif' font-size="28.9" font-weight="bold" text-anchor="middle" fill="#000">Graft T cells (million/kg)</text>
<text x="551.6" y="1037.2" transform="rotate(-90 551.6 1037.2)" text-anchor="middle" textLength="329" lengthAdjust="spacingAndGlyphs" font-family='"Liberation Sans", Arial, Helvetica, sans-serif' font-size="37.4" font-weight="bold" fill="#000">CD4+ T cells per <tspan font-family='"Liberation Serif", serif' font-weight="normal">μ</tspan>L</text>
<rect x="654" y="870" width="255.70000000000005" height="122" fill="#fff" stroke="#3f6fa3" stroke-width="2.4"/>
<text x="781.85" y="918.5" font-family='"Liberation Sans", Arial, Helvetica, sans-serif' font-size="40.5" font-weight="normal" text-anchor="middle" fill="#000" textLength="104.5" lengthAdjust="spacingAndGlyphs">R=0.5</text>
<text x="781.85" y="972.2" font-family='"Liberation Sans", Arial, Helvetica, sans-serif' font-size="40.5" font-weight="normal" text-anchor="middle" fill="#000" textLength="127" lengthAdjust="spacingAndGlyphs">p&lt;0.05</text>
<path d="M1503.3,1204.5 L1699.3,1183.0" fill="none" stroke="#000" stroke-width="2.4" stroke-linejoin="round"/>
<path d="M1503.3,1143.4 C1511.4,1145.8 1537.0,1154.1 1552.0,1157.9 C1567.0,1161.7 1582.9,1164.4 1593.2,1166.1 C1603.5,1167.8 1607.0,1167.8 1613.9,1167.8 C1620.8,1167.8 1625.6,1167.8 1634.5,1166.1 C1643.4,1164.4 1656.7,1161.5 1667.5,1157.9 C1678.3,1154.3 1694.0,1146.9 1699.3,1144.7" fill="none" stroke="#000" stroke-width="3.7" stroke-dasharray="4.6 6.6" stroke-linecap="round"/>
<path d="M1566.4,1235.0 C1570.9,1233.0 1585.3,1226.1 1593.2,1223.0 C1601.1,1219.9 1607.0,1218.0 1613.9,1216.4 C1620.8,1214.8 1627.7,1214.0 1634.5,1213.6 C1641.3,1213.2 1648.1,1213.5 1655.0,1214.0 C1661.9,1214.5 1668.4,1215.2 1675.8,1216.4 C1683.2,1217.6 1695.4,1220.2 1699.3,1221.0" fill="none" stroke="#000" stroke-width="3.7" stroke-dasharray="4.6 6.6" stroke-linecap="round"/>
<circle cx="1633.30" cy="1136.80" r="5.6" fill="#000"/>
<circle cx="1633.30" cy="1178.10" r="5.6" fill="#000"/>
<circle cx="1626.30" cy="1182.60" r="5.6" fill="#000"/>
<circle cx="1681.10" cy="1190.90" r="5.6" fill="#000"/>
<circle cx="1697.60" cy="1193.30" r="5.6" fill="#000"/>
<circle cx="1503.30" cy="1213.60" r="5.6" fill="#000"/>
<circle cx="1633.30" cy="1213.60" r="5.6" fill="#000"/>
<circle cx="1639.50" cy="1215.60" r="5.6" fill="#000"/>
<line x1="1308.50" y1="861.50" x2="1308.50" y2="1236.30" stroke="#000" stroke-width="2.9" stroke-linecap="butt"/>
<line x1="1299.50" y1="1235.00" x2="1828.90" y2="1235.00" stroke="#000" stroke-width="2.9" stroke-linecap="butt"/>
<line x1="1299.50" y1="862.80" x2="1308.50" y2="862.80" stroke="#000" stroke-width="2.8" stroke-linecap="round"/>
<text x="1298.3" y="870.0" font-family='"Liberation Sans", Arial, Helvetica, sans-serif' font-size="20.2" font-weight="bold" text-anchor="end" fill="#000">800</text>
<line x1="1299.50" y1="955.85" x2="1308.50" y2="955.85" stroke="#000" stroke-width="2.8" stroke-linecap="round"/>
<text x="1298.3" y="963.05" font-family='"Liberation Sans", Arial, Helvetica, sans-serif' font-size="20.2" font-weight="bold" text-anchor="end" fill="#000">600</text>
<line x1="1299.50" y1="1048.90" x2="1308.50" y2="1048.90" stroke="#000" stroke-width="2.8" stroke-linecap="round"/>
<text x="1298.3" y="1056.1000000000001" font-family='"Liberation Sans", Arial, Helvetica, sans-serif' font-size="20.2" font-weight="bold" text-anchor="end" fill="#000">400</text>
<line x1="1299.50" y1="1141.95" x2="1308.50" y2="1141.95" stroke="#000" stroke-width="2.8" stroke-linecap="round"/>
<text x="1298.3" y="1149.15" font-family='"Liberation Sans", Arial, Helvetica, sans-serif' font-size="20.2" font-weight="bold" text-anchor="end" fill="#000">200</text>
<line x1="1299.50" y1="1235.00" x2="1308.50" y2="1235.00" stroke="#000" stroke-width="2.8" stroke-linecap="round"/>
<text x="1298.3" y="1242.2" font-family='"Liberation Sans", Arial, Helvetica, sans-serif' font-size="20.2" font-weight="bold" text-anchor="end" fill="#000">0</text>
<line x1="1308.50" y1="1235.00" x2="1308.50" y2="1242.60" stroke="#000" stroke-width="2.8" stroke-linecap="round"/>
<text x="1308.5" y="1263.6" font-family='"Liberation Sans", Arial, Helvetica, sans-serif' font-size="20.2" font-weight="bold" text-anchor="middle" fill="#000">0</text>
<line x1="1438.28" y1="1235.00" x2="1438.28" y2="1242.60" stroke="#000" stroke-width="2.8" stroke-linecap="round"/>
<text x="1438.275" y="1263.6" font-family='"Liberation Sans", Arial, Helvetica, sans-serif' font-size="20.2" font-weight="bold" text-anchor="middle" fill="#000">200</text>
<line x1="1568.05" y1="1235.00" x2="1568.05" y2="1242.60" stroke="#000" stroke-width="2.8" stroke-linecap="round"/>
<text x="1568.05" y="1263.6" font-family='"Liberation Sans", Arial, Helvetica, sans-serif' font-size="20.2" font-weight="bold" text-anchor="middle" fill="#000">400</text>
<line x1="1697.82" y1="1235.00" x2="1697.82" y2="1242.60" stroke="#000" stroke-width="2.8" stroke-linecap="round"/>
<text x="1697.8249999999998" y="1263.6" font-family='"Liberation Sans", Arial, Helvetica, sans-serif' font-size="20.2" font-weight="bold" text-anchor="middle" fill="#000">600</text>
<line x1="1827.60" y1="1235.00" x2="1827.60" y2="1242.60" stroke="#000" stroke-width="2.8" stroke-linecap="round"/>
<text x="1827.6" y="1263.6" font-family='"Liberation Sans", Arial, Helvetica, sans-serif' font-size="20.2" font-weight="bold" text-anchor="middle" fill="#000">800</text>
<text x="1568.5" y="1302" font-family='"Liberation Sans", Arial, Helvetica, sans-serif' font-size="28.9" font-weight="bold" text-anchor="middle" fill="#000">Graft T cells (million/kg)</text>
<text x="1247.8" y="1048.1" transform="rotate(-90 1247.8 1048.1)" text-anchor="middle" textLength="328" lengthAdjust="spacingAndGlyphs" font-family='"Liberation Sans", Arial, Helvetica, sans-serif' font-size="37.4" font-weight="bold" fill="#000">CD4+ T cells per <tspan font-family='"Liberation Serif", serif' font-weight="normal">μ</tspan>L</text>
<rect x="1470.3" y="883.4" width="255.79999999999995" height="121.39999999999998" fill="#fff" stroke="#3f6fa3" stroke-width="2.4"/>
<text x="1598.1999999999998" y="930.5" font-family='"Liberation Sans", Arial, Helvetica, sans-serif' font-size="40.5" font-weight="normal" text-anchor="middle" fill="#000" textLength="142" lengthAdjust="spacingAndGlyphs">R=-0.11</text>
<text x="1598.1999999999998" y="985.8" font-family='"Liberation Sans", Arial, Helvetica, sans-serif' font-size="40.5" font-weight="normal" text-anchor="middle" fill="#000" textLength="87.5" lengthAdjust="spacingAndGlyphs">p=ns</text>
<text x="-1.5" y="57.4" font-family='"DejaVu Sans", Verdana, "Liberation Sans", sans-serif' font-size="36" letter-spacing="1.1" fill="#000"><tspan font-size="39" dy="2">(</tspan><tspan dy="-2">a</tspan><tspan font-size="39" dy="2">)</tspan></text>
<text x="474.8" y="33" font-family='"DejaVu Sans", Verdana, "Liberation Sans", sans-serif' font-size="36" letter-spacing="1.1" fill="#000"><tspan font-size="39" dy="2">(</tspan><tspan dy="-2">b</tspan><tspan font-size="39" dy="2">)</tspan></text>
<text x="1206" y="28.6" font-family='"DejaVu Sans", Verdana, "Liberation Sans", sans-serif' font-size="36" letter-spacing="1.1" fill="#000"><tspan font-size="39" dy="2">(</tspan><tspan dy="-2">c</tspan><tspan font-size="39" dy="2">)</tspan></text>
<text x="476.8" y="810.5" font-family='"DejaVu Sans", Verdana, "Liberation Sans", sans-serif' font-size="36" letter-spacing="1.1" fill="#000"><tspan font-size="39" dy="2">(</tspan><tspan dy="-2">d</tspan><tspan font-size="39" dy="2">)</tspan></text>
<text x="1179.4" y="811.2" font-family='"DejaVu Sans", Verdana, "Liberation Sans", sans-serif' font-size="36" letter-spacing="1.1" fill="#000"><tspan font-size="39" dy="2">(</tspan><tspan dy="-2">e</tspan><tspan font-size="39" dy="2">)</tspan></text>
</svg>
</body>
</html>
